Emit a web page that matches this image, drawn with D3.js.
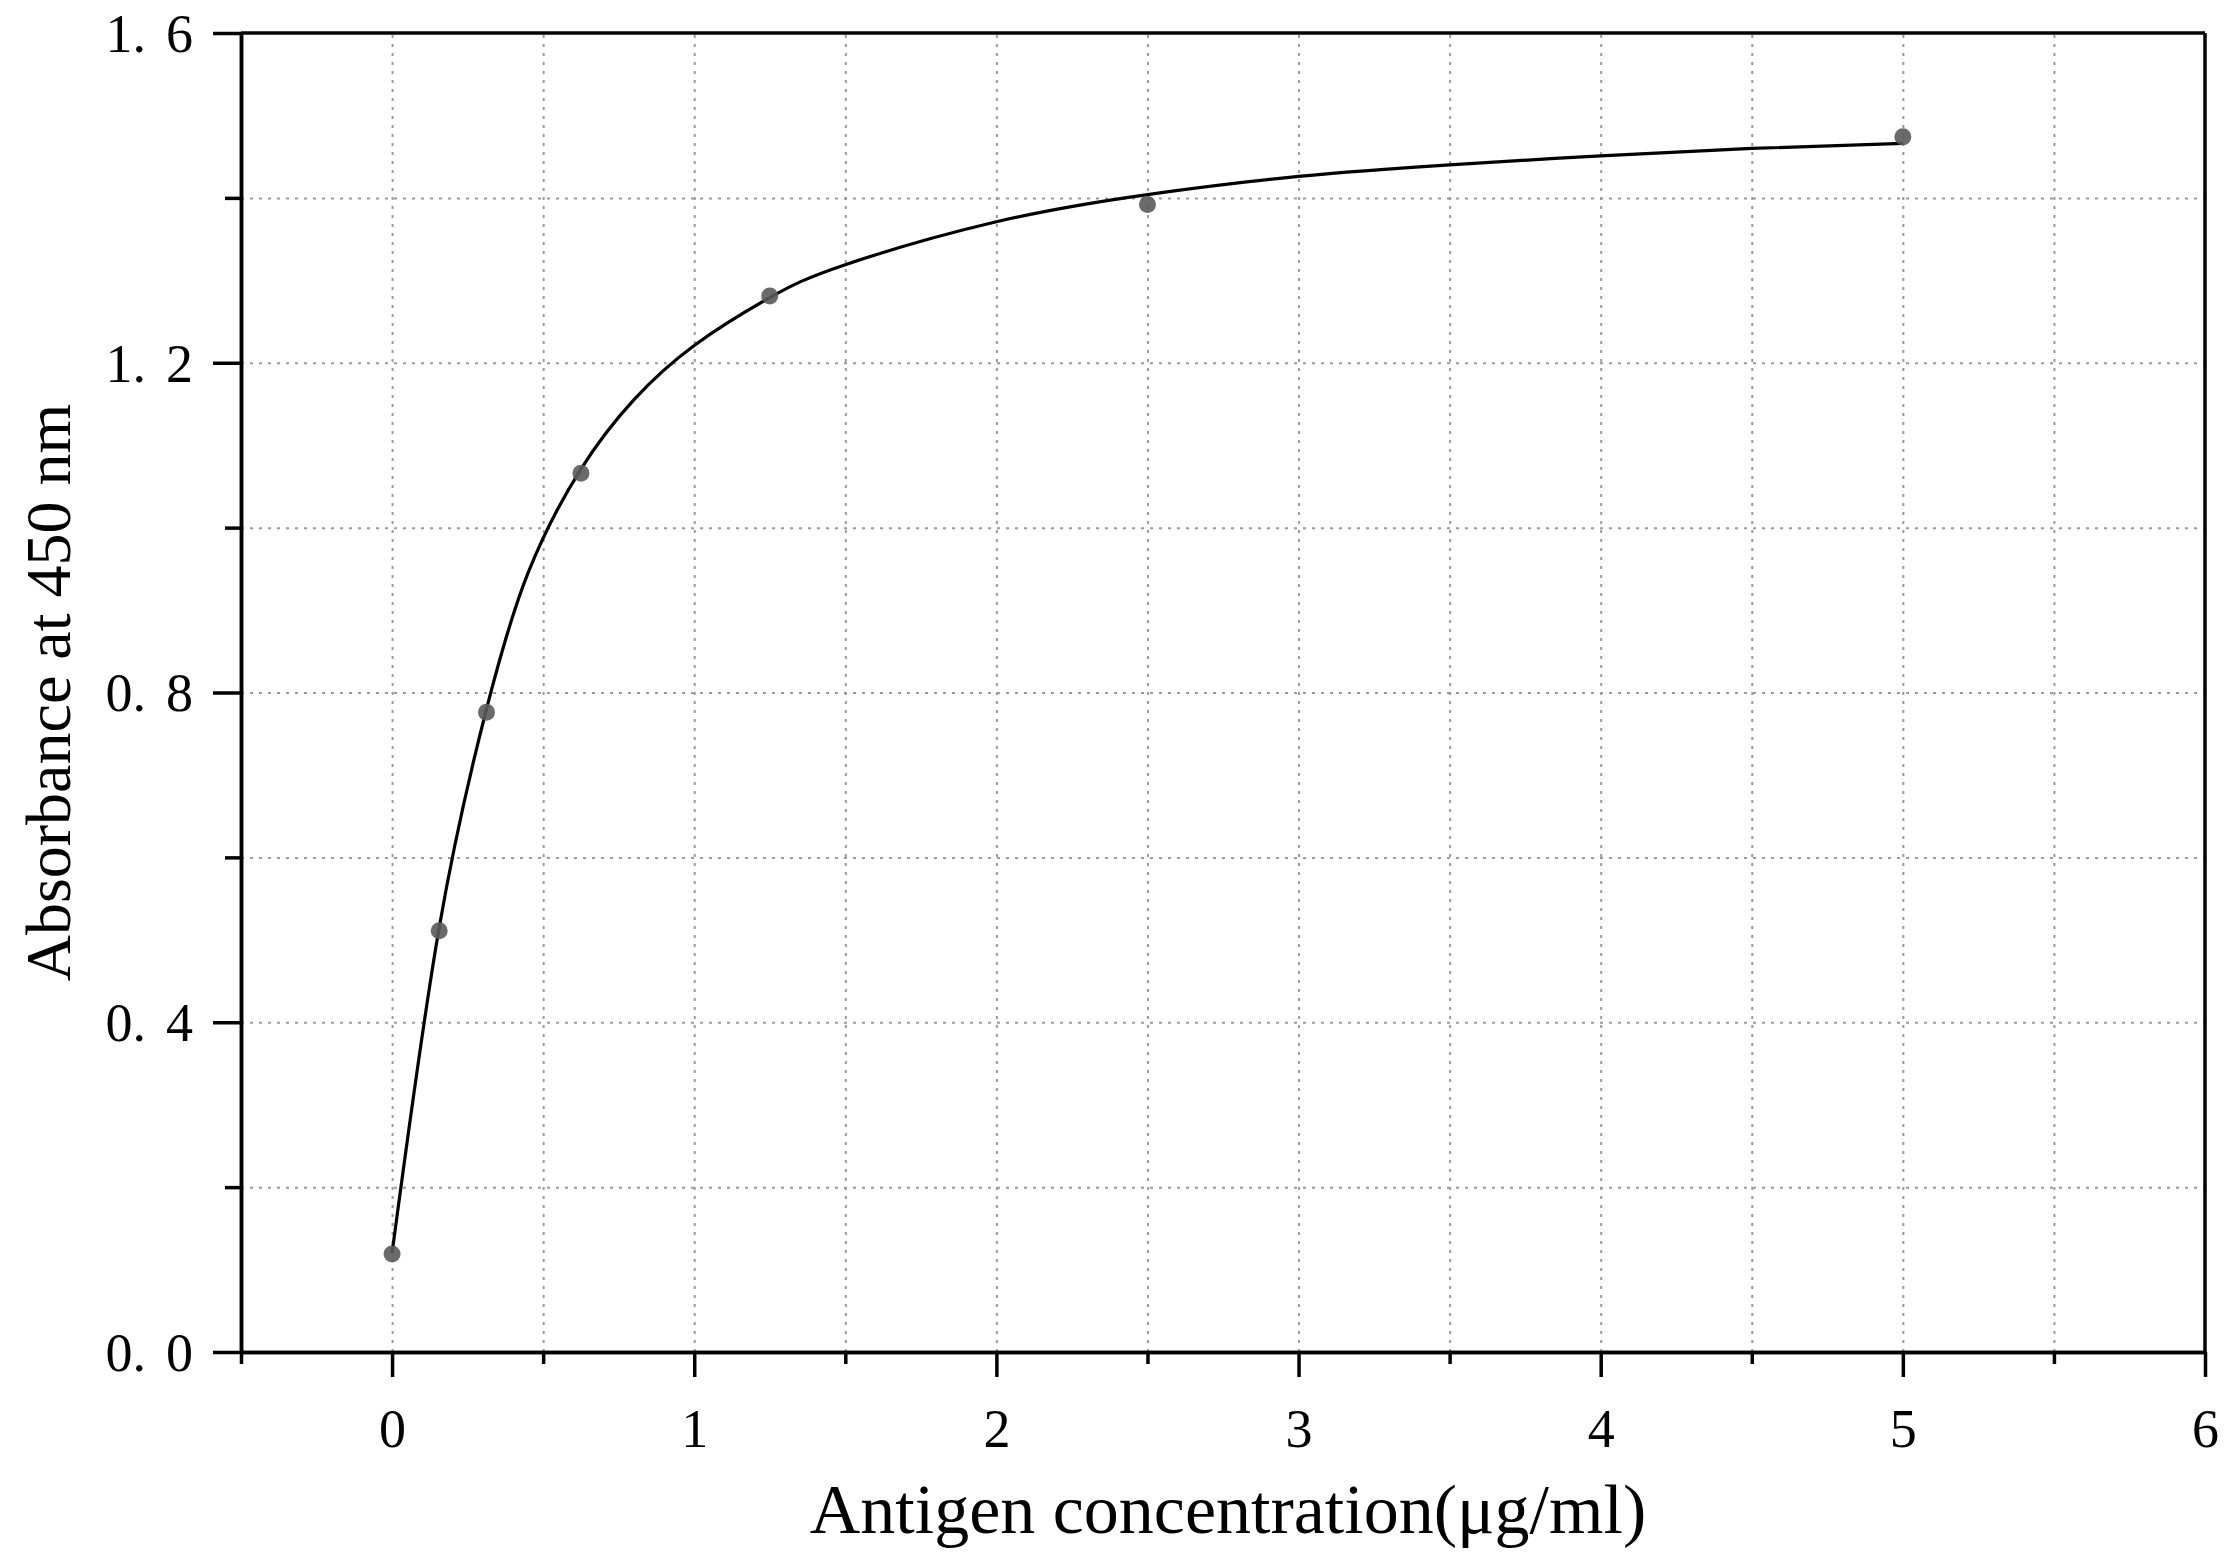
<!DOCTYPE html>
<html>
<head>
<meta charset="utf-8">
<script src="https://cdn.jsdelivr.net/npm/d3@7"></script>
<style>
  body { margin: 0; background: #fff; }
  svg { display: block; }
</style>
</head>
<body>
<div id="chart"></div>
<script>
// measured points (antigen conc. vs absorbance)
var concX = [0, 0.156, 0.3125, 0.625, 1.25, 2.5, 5];
var absY = [0.119, 0.511, 0.776, 1.066, 1.281, 1.392, 1.474];
// fitted curve
var fitX = [0, 0.156, 0.3125, 0.45, 0.625, 0.8, 1.0, 1.25, 1.5, 2.0, 2.5, 3.0, 3.5, 4.0, 4.5, 5.0];
var fitY = [0.12, 0.515, 0.78, 0.945, 1.071, 1.155, 1.221, 1.279, 1.319, 1.371, 1.404, 1.426, 1.44, 1.451, 1.46, 1.466];
// ticks
var xMajor = [0, 1, 2, 3, 4, 5, 6];
var xMinor = [-0.5, 0.5, 1.5, 2.5, 3.5, 4.5, 5.5];
var yMajor = [0, 0.4, 0.8, 1.2, 1.6];
var yMinor = [0.2, 0.6, 1.0, 1.4];
var xGrid = [0, 0.5, 1, 1.5, 2, 2.5, 3, 3.5, 4, 4.5, 5, 5.5];
var yGrid = [0.2, 0.4, 0.6, 0.8, 1.0, 1.2, 1.4];
var xTitle = 'Antigen concentration(\u03bcg/ml)';
var yTitle = 'Absorbance at 450 nm';

var W = 2236, H = 1560;
var margin = {top: 33, right: 31, bottom: 208, left: 241},
    width = W - margin.left - margin.right,
    height = H - margin.top - margin.bottom;

var tickFont = "54px 'Liberation Serif','Times New Roman',serif";
var titleFont = "'Liberation Serif','Times New Roman',serif";

let xScale = d3.scaleLinear().domain([-0.5, 6]).range([0, width]);
let yScale = d3.scaleLinear().domain([0, 1.6]).range([height, 0]);

let svg = d3.select('#chart').append('svg')
    .attr('width', W)
    .attr('height', H)
  .append('g')
    .attr('transform', 'translate(' + margin.left + ',' + margin.top + ')');

// dotted grid
svg.append('g')
    .attr('class', 'x axis-grid')
    .attr('transform', 'translate(0,' + height + ')')
    .call(d3.axisBottom(xScale).tickValues(xGrid).tickSize(-height).tickFormat(''))
    .call(g => g.select('.domain').remove())
    .selectAll('line')
      .attr('stroke', '#9a9a9a')
      .attr('stroke-width', 2)
      .attr('stroke-dasharray', '3,6');
svg.append('g')
    .attr('class', 'y axis-grid')
    .call(d3.axisLeft(yScale).tickValues(yGrid).tickSize(-width).tickFormat(''))
    .call(g => g.select('.domain').remove())
    .selectAll('line')
      .attr('stroke', '#9a9a9a')
      .attr('stroke-width', 2)
      .attr('stroke-dasharray', '3,6');

// fitted curve
let fit = fitX.map((x, i) => [x, fitY[i]]);
let line = d3.line()
    .x(d => xScale(d[0]))
    .y(d => yScale(d[1]))
    .curve(d3.curveNatural);
svg.append('path')
    .datum(fit)
    .attr('fill', 'none')
    .attr('stroke', '#000')
    .attr('stroke-width', 3.2)
    .attr('d', line);

// data points
let pts = concX.map((x, i) => [x, absY[i]]);
svg.selectAll('.dot')
    .data(pts)
  .enter().append('circle')
    .attr('class', 'dot')
    .attr('cx', d => xScale(d[0]))
    .attr('cy', d => yScale(d[1]))
    .attr('r', 8.5)
    .attr('fill', '#5a5a5a')
    .attr('fill-opacity', 0.9);

// frame (top & right)
svg.append('line')
    .attr('x1', 0).attr('x2', width)
    .attr('y1', 0).attr('y2', 0)
    .attr('stroke', '#000').attr('stroke-width', 3.5);
svg.append('line')
    .attr('x1', width).attr('x2', width)
    .attr('y1', 0).attr('y2', height)
    .attr('stroke', '#000').attr('stroke-width', 3.5);

// axes: minor ticks first, then major with labels
function styleAxis(g) {
  g.select('.domain').attr('stroke', '#000').attr('stroke-width', 3.5);
  g.selectAll('.tick line').attr('stroke', '#000').attr('stroke-width', 3.5);
}
svg.append('g')
    .attr('transform', 'translate(0,' + height + ')')
    .call(d3.axisBottom(xScale).tickValues(xMinor).tickSize(12).tickSizeOuter(0).tickFormat(''))
    .call(styleAxis);
svg.append('g')
    .attr('class', 'x axis')
    .attr('transform', 'translate(0,' + height + ')')
    .call(d3.axisBottom(xScale).tickValues(xMajor).tickSize(25).tickSizeOuter(0).tickPadding(32)
          .tickFormat(d3.format('d')))
    .call(styleAxis)
    .selectAll('text')
      .style('font', tickFont)
      .attr('fill', '#000');

svg.append('g')
    .call(d3.axisLeft(yScale).tickValues(yMinor).tickSize(16).tickSizeOuter(0).tickFormat(''))
    .call(styleAxis);
let yLabels = svg.append('g')
    .attr('class', 'y axis')
    .call(d3.axisLeft(yScale).tickValues(yMajor).tickSize(28).tickSizeOuter(0).tickPadding(20)
          .tickFormat(d3.format('.1f')))
    .call(styleAxis)
    .selectAll('text')
      .style('font', tickFont)
      .attr('dy', '0.34em')
      .attr('fill', '#000');
// wide gap after the decimal point, like the original's font
yLabels.each(function(d) {
  let s = d3.format('.1f')(d).split('.');
  let t = d3.select(this).text(null);
  t.append('tspan').text(s[0] + '.');
  t.append('tspan').attr('dx', 20).text(s[1]);
});

// axis titles
svg.append('text')
    .attr('transform', 'rotate(-90)')
    .attr('x', -height / 2)
    .attr('y', 70 - margin.left)
    .style('font', '64px ' + titleFont)
    .style('text-anchor', 'middle')
    .attr('fill', '#000')
    .text(yTitle);

svg.append('text')
    .attr('x', 1228 - margin.left)
    .attr('y', 1533 - margin.top)
    .style('font', '70px ' + titleFont)
    .style('text-anchor', 'middle')
    .attr('fill', '#000')
    .text(xTitle);
</script>
</body>
</html>
